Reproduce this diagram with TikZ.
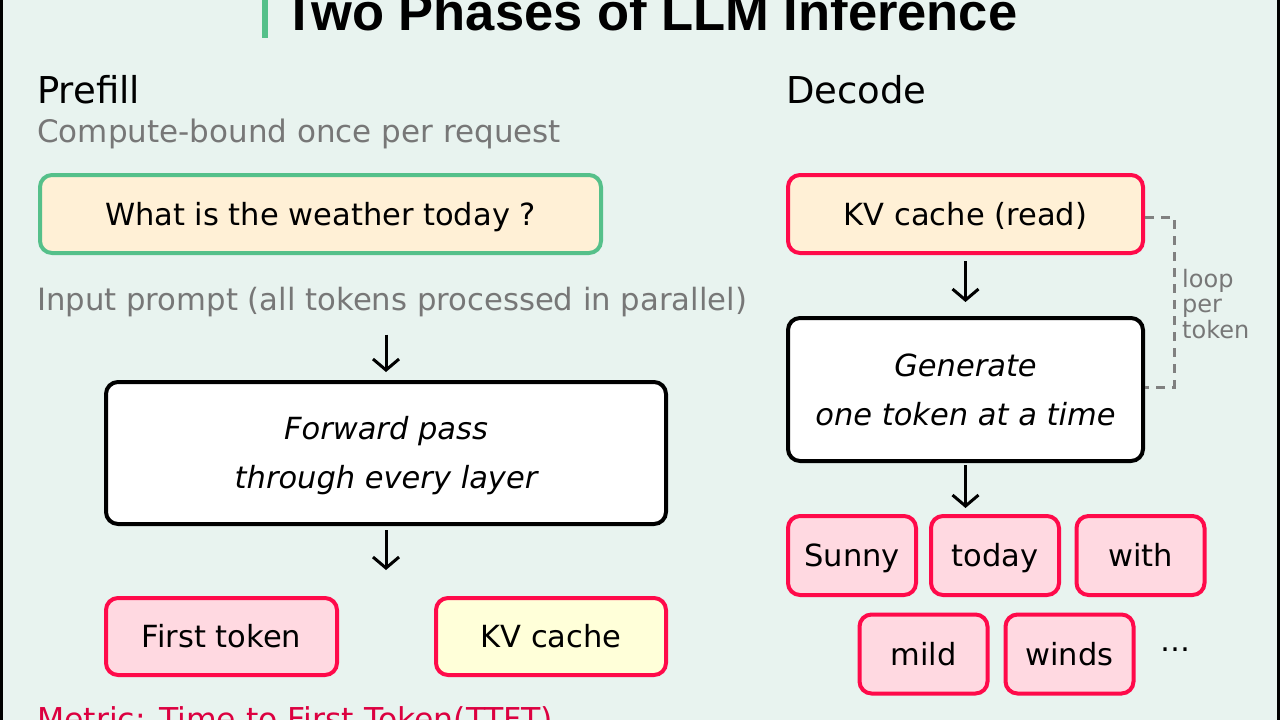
\documentclass[tikz,border=0pt]{standalone}
\usepackage{fontspec}
\setmainfont{DejaVu Sans}
\newfontfamily\titlefont{Liberation Sans}
\usetikzlibrary{arrows.meta}
\definecolor{bgc}{HTML}{E8F3EF}
\definecolor{accent}{HTML}{55C08A}
\definecolor{peach}{HTML}{FFF0D6}
\definecolor{redb}{HTML}{FF0A4A}
\definecolor{pinkf}{HTML}{FFD9E1}
\definecolor{yelf}{HTML}{FFFFD9}
\definecolor{graytx}{HTML}{777777}
\definecolor{loopgray}{HTML}{808080}
\definecolor{metricred}{HTML}{DC0040}
\tikzset{
  box/.style={draw, line width=4pt, rounded corners=12pt, inner sep=0pt, align=center,
    text height=22pt, text depth=0pt, font=\fontsize{30.5}{49}\selectfont},
  itbox/.style={box, text height=71pt, font=\itshape\fontsize{30.5}{49}\selectfont},
  hdr/.style={anchor=base west, inner sep=0pt, font=\fontsize{37}{42}\selectfont},
  sub/.style={anchor=base west, inner sep=0pt, text=graytx, font=\fontsize{31}{36}\selectfont},
  arr/.style={line width=3pt, -{Straight Barb[length=11pt, width=26pt, line width=3pt]}},
  tok/.style={box, draw=redb, fill=pinkf, minimum width=128pt, minimum height=79pt},
  loopline/.style={draw=loopgray, line width=3pt, dash pattern=on 9pt off 7pt}
}
\begin{document}
\begin{tikzpicture}[x=1pt, y=-1pt]
\useasboundingbox (0,0) rectangle (1280,720);
\fill[bgc] (0,0) rectangle (1280,720);
\fill[black] (0,0) rectangle (3,720);
\fill[black] (1277,0) rectangle (1280,720);
\fill[accent] (262,-2) rectangle (268,38);
\node[anchor=base west, inner sep=0pt, font=\titlefont\bfseries\fontsize{52.5}{60}\selectfont] (title) at (283,30) {Two Phases of LLM Inference};

% Prefill column
\node[hdr] (prefill) at (37,103) {Prefill};
\node[sub] (prefsub) at (37,142) {Compute-bound once per request};
\node[box, draw=accent, fill=peach, minimum width=561pt, minimum height=78pt] (prompt) at (320.5,214) {What is the weather today ?};
\node[sub, font=\fontsize{30.7}{36}\selectfont] (inlabel) at (37,310) {Input prompt (all tokens processed in parallel)};
\node[itbox, draw=black, fill=white, minimum width=560pt, minimum height=142pt] (fwd) at (386,453) {Forward pass\\through every layer};
\node[box, draw=redb, fill=pinkf, minimum width=231pt, minimum height=77pt] (first) at (221.5,636.5) {First token};
\node[box, draw=redb, fill=yelf, minimum width=230pt, minimum height=77pt] (kvc) at (551,636.5) {KV cache};
\node[anchor=base west, inner sep=0pt, text=metricred, font=\fontsize{31.5}{36}\selectfont] (metric) at (37,730) {Metric: Time to First Token(TTFT)};

\draw[arr, shorten <=18pt, shorten >=8pt] (fwd.north |- inlabel.south) -- (fwd.north);
\draw[arr, shorten <=4pt, shorten >=26pt] (fwd.south) -- (fwd.south |- first.north);

% Decode column
\node[hdr] (decode) at (786,103) {Decode};
\node[box, draw=redb, fill=peach, minimum width=355pt, minimum height=78pt] (kvr) at (965.5,214) {KV cache (read)};
\node[itbox, draw=black, fill=white, minimum width=355pt, minimum height=143pt] (gen) at (965.5,389.5) {Generate\\one token at a time};
\node[tok] (t1) at (852,555.5) {Sunny};
\node[tok] (t2) at (995,555.5) {today};
\node[tok] (t3) at (1140.5,555.5) {with};
\node[tok] (t4) at (923.5,654) {mild};
\node[tok] (t5) at (1069.5,654) {winds};
\node[inner sep=0pt, font=\fontsize{30}{34}\selectfont] (dots) at (1175,650) {…};

\draw[arr, shorten <=6pt, shorten >=14pt] (kvr.south) -- (gen.north);
\draw[arr, shorten <=2pt, shorten >=6pt] (gen.south) -- (gen.south |- t2.north);

\coordinate (lt) at (1174,217);
\coordinate (lb) at (1174,387);
\draw[loopline] (kvr.east |- lt) -- (lt) -- (lb) -- (gen.east |- lb);
\node[anchor=west, inner sep=0pt, align=left, text=graytx, font=\fontsize{24}{25.5}\selectfont] (looplbl) at (1182,304) {loop\\per\\token};
\end{tikzpicture}
\end{document}
